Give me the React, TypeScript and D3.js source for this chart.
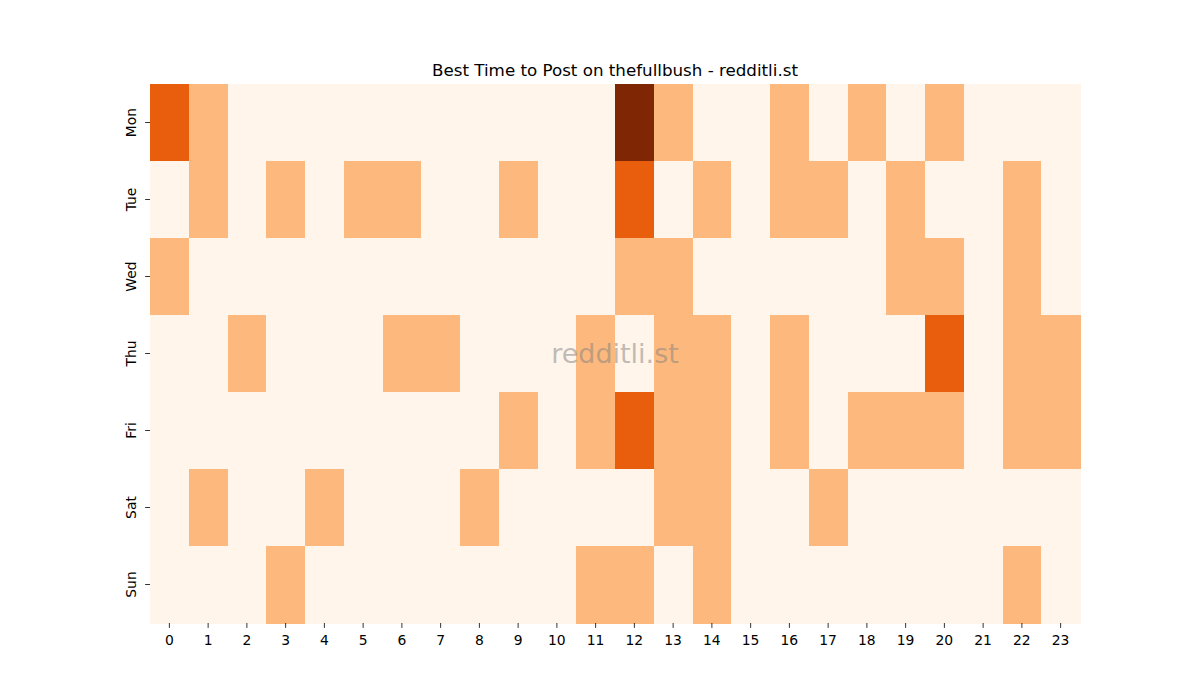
import React from "react";
import * as d3 from "d3";

const WIDTH = 1200;
const HEIGHT = 700;
const MARGIN = { top: 84, right: 120, bottom: 77, left: 150 };

const DAYS = ["Mon", "Tue", "Wed", "Thu", "Fri", "Sat", "Sun"];
const HOURS = d3.range(24).map(String);

// posting score per hour (0..3), one array per day
const MON = [2, 1, 0, 0, 0, 0, 0, 0, 0, 0, 0, 0, 3, 1, 0, 0, 1, 0, 1, 0, 1, 0, 0, 0];
const TUE = [0, 1, 0, 1, 0, 1, 1, 0, 0, 1, 0, 0, 2, 0, 1, 0, 1, 1, 0, 1, 0, 0, 1, 0];
const WED = [1, 0, 0, 0, 0, 0, 0, 0, 0, 0, 0, 0, 1, 1, 0, 0, 0, 0, 0, 1, 1, 0, 1, 0];
const THU = [0, 0, 1, 0, 0, 0, 1, 1, 0, 0, 0, 1, 0, 1, 1, 0, 1, 0, 0, 0, 2, 0, 1, 1];
const FRI = [0, 0, 0, 0, 0, 0, 0, 0, 0, 1, 0, 1, 2, 1, 1, 0, 1, 0, 1, 1, 1, 0, 1, 1];
const SAT = [0, 1, 0, 0, 1, 0, 0, 0, 1, 0, 0, 0, 0, 1, 1, 0, 0, 1, 0, 0, 0, 0, 0, 0];
const SUN = [0, 0, 0, 1, 0, 0, 0, 0, 0, 0, 0, 1, 1, 0, 1, 0, 0, 0, 0, 0, 0, 0, 1, 0];
const VALUES = [MON, TUE, WED, THU, FRI, SAT, SUN];

const COLORS = ["#fff5eb", "#fdb97d", "#e95e0d", "#7f2704"];

const FONT = "DejaVu Sans, sans-serif";

export default function App() {
  const boundsWidth = WIDTH - MARGIN.left - MARGIN.right;
  const boundsHeight = HEIGHT - MARGIN.top - MARGIN.bottom;

  const xScale = d3.scaleBand().domain(HOURS).range([0, boundsWidth]);
  const yScale = d3.scaleBand().domain(DAYS).range([0, boundsHeight]);
  const color = d3.scaleOrdinal<number, string>().domain([0, 1, 2, 3]).range(COLORS);

  const cells = DAYS.flatMap((day, r) =>
    VALUES[r].map((v, c) => (
      <rect
        key={`${day}-${c}`}
        x={xScale(HOURS[c])}
        y={yScale(day)}
        width={xScale.bandwidth() + 0.5}
        height={yScale.bandwidth() + 0.5}
        fill={color(v)}
        shapeRendering="crispEdges"
      />
    ))
  );

  return (
    <svg width={WIDTH} height={HEIGHT} style={{ display: "block", margin: "-8px" }}>
      <rect width={WIDTH} height={HEIGHT} fill="#fff" />
      <text x={MARGIN.left + boundsWidth / 2} y={76} textAnchor="middle" fontFamily={FONT} fontSize={16.7}>
        Best Time to Post on thefullbush - redditli.st
      </text>
      <g transform={`translate(${MARGIN.left},${MARGIN.top})`}>
        {cells}
        {HOURS.map((h) => {
          const x = (xScale(h) ?? 0) + xScale.bandwidth() / 2;
          return (
            <g key={h} transform={`translate(${x},${boundsHeight})`}>
              <line y2={4.9} stroke="#000" strokeWidth={0.8} />
              <text y={22} textAnchor="middle" fontFamily={FONT} fontSize={13.9}>
                {h}
              </text>
            </g>
          );
        })}
        {DAYS.map((d) => {
          const y = (yScale(d) ?? 0) + yScale.bandwidth() / 2;
          return (
            <g key={d} transform={`translate(0,${y})`}>
              <line x2={-4.9} stroke="#000" strokeWidth={0.8} />
              <text
                transform="translate(-14,0) rotate(-90)"
                textAnchor="middle"
                fontFamily={FONT}
                fontSize={13.9}
              >
                {d}
              </text>
            </g>
          );
        })}
        <text
          x={boundsWidth / 2}
          y={boundsHeight / 2 + 9}
          textAnchor="middle"
          fontFamily={FONT}
          fontSize={27}
          fill="#808080"
          fillOpacity={0.5}
        >
          redditli.st
        </text>
      </g>
    </svg>
  );
}
